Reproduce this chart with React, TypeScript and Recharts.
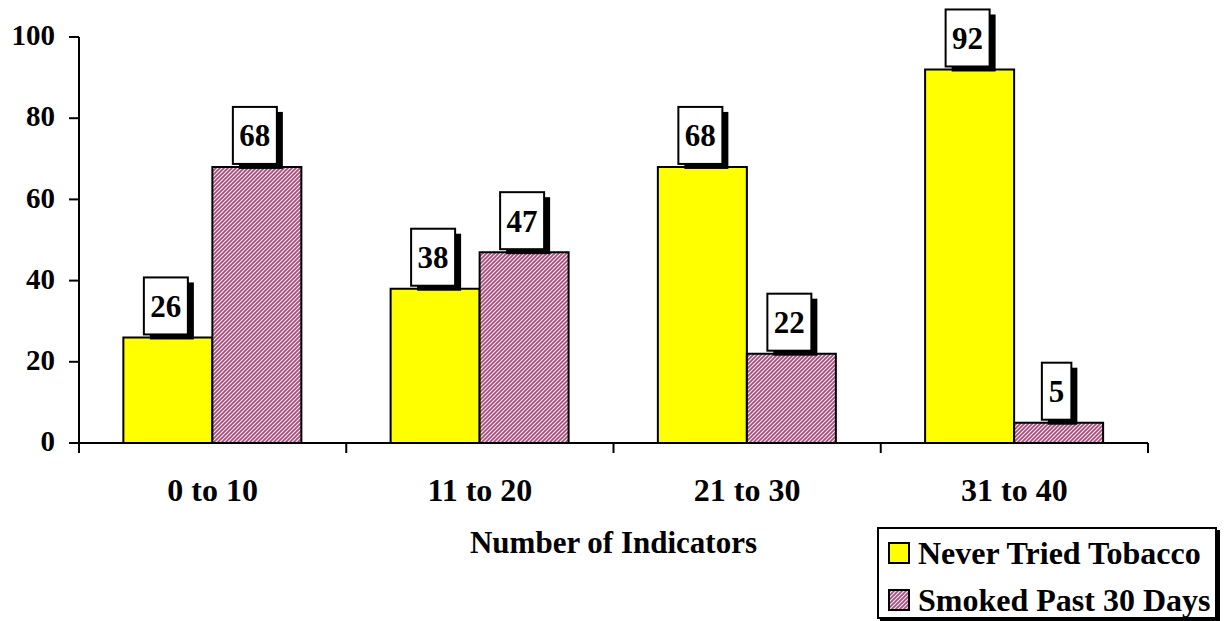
import React from 'react';
import { BarChart, Bar, XAxis, YAxis, LabelList } from 'recharts';

const categories = ['0 to 10', '11 to 20', '21 to 30', '31 to 40'];
const neverTried = [26, 38, 68, 92];
const smoked = [68, 47, 22, 5];
const yTicks = [0, 20, 40, 60, 80, 100];

const data = categories.map((c, i) => ({ cat: c, never: neverTried[i], smoked: smoked[i] }));

const FONT = '"Liberation Serif", "Times New Roman", serif';

const ValueBox = (props: any) => {
  const { x, y, width, value } = props;
  const s = String(value);
  const w = s.length * 14.5 + 15;
  const h = 57;
  const cx = x + width / 2 - 2;
  const bottom = y - 3;
  const left = cx - w / 2;
  const top = bottom - h;
  return (
    <g>
      <rect x={left + 6} y={top + 5} width={w} height={h} fill="#000" />
      <rect x={left} y={top} width={w} height={h} fill="#fff" stroke="#000" strokeWidth={2} />
      <text x={cx} y={top + h / 2 + 11} textAnchor="middle" fontFamily={FONT} fontWeight="bold" fontSize={31} fill="#000">
        {s}
      </text>
    </g>
  );
};

const CatTick = (props: any) => {
  const { x, y, payload, index, visibleTicksCount } = props;
  const half = payload && typeof payload.offset === 'number' ? payload.offset : 0;
  const isLast = index === (visibleTicksCount ?? categories.length) - 1;
  const y0 = y - 8;
  return (
    <g>
      {half > 0 && <line x1={x - half} x2={x - half} y1={y0} y2={y0 + 10} stroke="#000" strokeWidth={2} />}
      {half > 0 && isLast && <line x1={x + half} x2={x + half} y1={y0} y2={y0 + 10} stroke="#000" strokeWidth={2} />}
      <text x={x} y={y + 50} textAnchor="middle" fontFamily={FONT} fontWeight="bold" fontSize={32} fill="#000">
        {payload.value}
      </text>
    </g>
  );
};

export default function App() {
  return (
    <div style={{ position: 'fixed', left: 0, top: 0, width: 1225, height: 621, background: '#fff' }}>
      <BarChart
        width={1225}
        height={621}
        data={data}
        margin={{ top: 37, right: 77, bottom: 118, left: 9 }}
        barCategoryGap="16.6%"
        barGap={0}
      >
        <defs>
          <pattern id="hatch" patternUnits="userSpaceOnUse" width="4" height="4">
            <rect width="4" height="4" fill="#f4e4ec" />
            <path d="M-1,1 l2,-2 M0,4 l4,-4 M3,5 l2,-2" stroke="#a24d7c" strokeWidth={1.6} />
          </pattern>
        </defs>
        <XAxis
          dataKey="cat"
          axisLine={{ stroke: '#000', strokeWidth: 2 }}
          tickLine={false}
          tick={<CatTick />}
          interval={0}
          height={60}
          label={{ value: 'Number of Indicators', position: 'insideBottom', offset: -50, style: { fontFamily: FONT, fontWeight: 'bold', fontSize: 31, fill: '#000' } }}
        />
        <YAxis
          domain={[0, 100]}
          ticks={yTicks}
          width={70}
          axisLine={{ stroke: '#000', strokeWidth: 2 }}
          tickLine={{ stroke: '#000', strokeWidth: 2 }}
          tickSize={10}
          tickMargin={14}
          tick={{ fontFamily: FONT, fontWeight: 'bold', fontSize: 29, fill: '#000', dy: -2 }}
        />
        <Bar dataKey="never" fill="#ffff00" stroke="#000" strokeWidth={2} isAnimationActive={false}>
          <LabelList dataKey="never" content={<ValueBox />} />
        </Bar>
        <Bar dataKey="smoked" fill="url(#hatch)" stroke="#000" strokeWidth={2} isAnimationActive={false}>
          <LabelList dataKey="smoked" content={<ValueBox />} />
        </Bar>
      </BarChart>
      <div
        style={{
          position: 'absolute',
          left: 877,
          top: 527,
          width: 336,
          height: 88,
          border: '2px solid #000',
          boxShadow: '3px 3px 0 #000',
          background: '#fff',
          fontFamily: FONT,
          fontWeight: 'bold',
          fontSize: 32,
          color: '#000',
        }}
      >
        <div style={{ position: 'absolute', left: 9, top: 6, display: 'flex', alignItems: 'center', whiteSpace: 'nowrap', height: 36 }}>
          <span style={{ display: 'inline-block', width: 18, height: 18, background: '#ffff00', border: '2px solid #000', marginRight: 8 }} />
          Never Tried Tobacco
        </div>
        <div style={{ position: 'absolute', left: 9, top: 53, display: 'flex', alignItems: 'center', whiteSpace: 'nowrap', height: 36 }}>
          <svg width={22} height={22} style={{ marginRight: 8 }}>
            <defs>
              <pattern id="hatch2" patternUnits="userSpaceOnUse" width="4" height="4">
                <rect width="4" height="4" fill="#f4e4ec" />
                <path d="M-1,1 l2,-2 M0,4 l4,-4 M3,5 l2,-2" stroke="#a24d7c" strokeWidth={1.6} />
              </pattern>
            </defs>
            <rect x={1} y={1} width={20} height={20} fill="url(#hatch2)" stroke="#000" strokeWidth={2} />
          </svg>
          Smoked Past 30 Days
        </div>
      </div>
    </div>
  );
}
